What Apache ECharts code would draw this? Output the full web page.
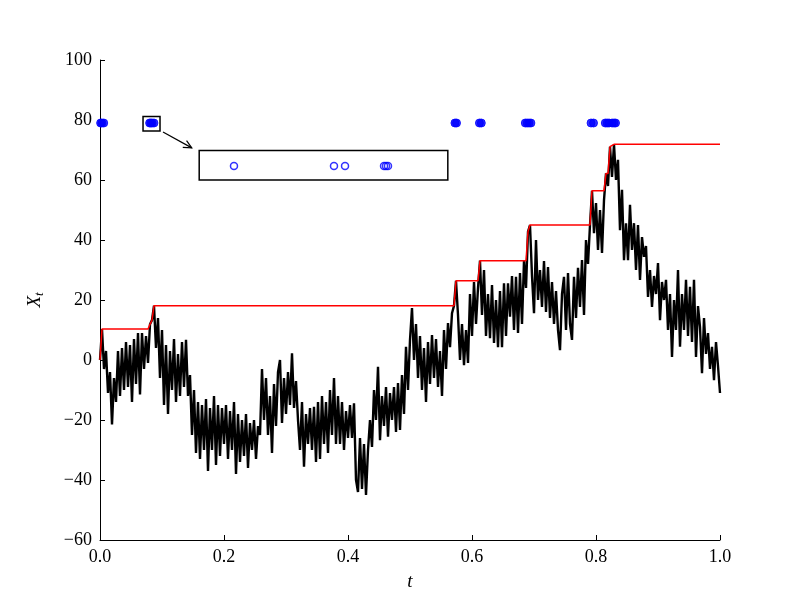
<!DOCTYPE html>
<html>
<head>
<meta charset="utf-8">
<title>X_t</title>
<script src="https://cdn.jsdelivr.net/npm/echarts@6.0.0/dist/echarts.min.js"></script>
<style>
html,body{margin:0;padding:0;background:#fff;}
#chart{width:800px;height:600px;}
</style>
</head>
<body>
<div id="chart"></div>
<script>
// sample path, one value every 1/310 in t
var pathX = [
    0, 10.3, -3, 3, -11, -4, -21.5, -6, -14, 3,
    -12, 4, -10, 6, -9, 5, -14, 7, -8, 9,
    -11.5, 9, -3, 8, -1, 11.9, 13.3, 18.1, 4, 14,
    -6, 10, -15, 5, -18, 3, -10, 7, -14, 2,
    -12, 6, -9, 6.7, -12, -5, -25, -10, -31, -14,
    -33, -15, -30, -13, -37, -16, -30, -12, -35, -15,
    -32, -16, -28, -15, -33, -17, -30, -14, -38, -18,
    -34, -20, -32, -18, -36, -21, -30, -20, -33, -22,
    -25, -3, -20, -6, -25, -12, -31, -8, -22, -4,
    0, -21, -6, -18, -4, -15, 2.2, -16, -7, -20,
    -30, -14, -35.6, -18, -28, -16, -30, -15.6, -34, -14,
    -33, -12, -28, -14, -31, -10, -25, -6, -28, -12,
    -28, -14, -30, -17, -26, -15, -26, -14.4, -40, -44,
    -26, -43, -28, -45, -30, -20, -29, -10, -20, -2.3,
    -26.7, -12, -22, -9, -25.6, -11, -20, -9, -24, -7.7,
    -23.3, -5, -18, 4.4, -10, 6.7, 17.3, 0, 12, -6,
    8, -10, 4, -14, 6, -8, 8.3, -6, 7, -9,
    3, -12, 10, -3, 12.3, 4.3, 15.6, 18.1, 26.4, 15,
    0, 12, -1.7, 10, -1, 22, 8, 26, 12, 24,
    33.1, 15, 30, 8, 22, 7.3, 25, 5.7, 20, 4.3,
    23, 4.3, 25.6, 8, 25.6, 14.4, 28, 10, 27.7, 9,
    29, 12, 33.1, 24, 42.8, 45, 28, 15.6, 40, 20,
    30, 17.7, 33, 16, 31, 14, 26, 12, 23, 10,
    3.3, 22, 27.7, 10, 29, 12, 6.7, 27.7, 14, 30.7,
    17.7, 33.3, 15, 40, 32, 45, 56.4, 42.3, 52.3, 36.7,
    50, 35.7, 53.3, 62.2, 58, 71.1, 61, 71.9, 60, 66.7,
    43.3, 56.7, 33.3, 45.6, 33.3, 51.7, 36.7, 45.6, 30, 45,
    26.7, 41, 34.4, 38, 21, 30, 17.7, 28, 22, 32.3,
    13.3, 26, 20, 26.7, 10, 22, 1, 20, 10, 30,
    4.4, 22, 10, 26.7, 8, 24.4, 6, 26.7, 1, 18,
    11, -4.4, 14, 2, 9, -3, 4.4, -6.7, 6, -2,
    -11
];

// running maximum (red)
var stepT = [0, 0.0032, 0.0774, 0.0806, 0.0839, 0.0871, 0.5710, 0.5742, 0.6097, 0.6129,
    0.6871, 0.6903, 0.6935, 0.7903, 0.7935, 0.8129, 0.8161, 0.8194, 0.8226, 0.8258, 0.8290, 1.0];
var stepV = [0, 10.3, 10.3, 11.9, 13.3, 18.1, 18.1, 26.4, 26.4, 33.1,
    33.1, 42.8, 45, 45, 56.4, 56.4, 62.2, 62.2, 71.1, 71.1, 71.9, 71.9];

// times of new maxima, drawn at level 79
var recordT = [0.001, 0.003, 0.006, 0.080, 0.082, 0.084, 0.087, 0.5725, 0.575, 0.612, 0.615,
    0.686, 0.689, 0.692, 0.695, 0.792, 0.796, 0.815, 0.818, 0.821, 0.826, 0.829, 0.8315];
var recordV = [79];

// the magnified view of the small box
var zoomT = [0.2161, 0.3774, 0.3952, 0.4581, 0.4613, 0.4645];
var zoomV = [64.7];

// boxes: t0, v0, t1, v1
var boxes = [[0.0694, 76.3, 0.0968, 81.2], [0.16, 60, 0.561, 69.8]];
// arrow: from t, v to t, v
var arrows = [[0.1016, 76, 0.148, 70.7]];

var FONT = 'Liberation Serif';

var pathData = [];
for (var i = 0; i < pathX.length; i++) {
    pathData.push([i / (pathX.length - 1), pathX[i]]);
}
var stepData = [];
for (var i = 0; i < stepT.length; i++) {
    stepData.push([stepT[i], stepV[i]]);
}
var recordData = [];
for (var i = 0; i < recordT.length; i++) {
    recordData.push([recordT[i], recordV[0]]);
}
var zoomData = [];
for (var i = 0; i < zoomT.length; i++) {
    zoomData.push([zoomT[i], zoomV[0]]);
}

function minus(s) {
    return String(s).replace('-', '\u2212');
}

var option = {
    animation: false,
    backgroundColor: '#fff',
    grid: {left: 100, right: 80, top: 60, bottom: 60},
    xAxis: {
        type: 'value',
        min: 0, max: 1, interval: 0.2,
        name: 't',
        nameLocation: 'middle',
        nameGap: 32,
        nameTextStyle: {fontFamily: FONT, fontSize: 19, fontStyle: 'italic', color: '#000'},
        axisLine: {onZero: false, lineStyle: {color: '#000', width: 1}},
        axisTick: {inside: true, length: 5, lineStyle: {color: '#000'}},
        axisLabel: {
            color: '#000', fontFamily: FONT, fontSize: 18, margin: 8,
            formatter: function (v) { return v.toFixed(1); }
        },
        splitLine: {show: false}
    },
    yAxis: {
        type: 'value',
        min: -60, max: 100, interval: 20,
        name: '{x|X}{s|t}',
        nameLocation: 'middle',
        nameGap: 54,
        nameRotate: 90,
        nameTextStyle: {
            color: '#000',
            rich: {
                x: {fontFamily: FONT, fontSize: 19, fontStyle: 'italic', color: '#000'},
                s: {fontFamily: FONT, fontSize: 13, fontStyle: 'italic', color: '#000', padding: [9, 0, 0, 0]}
            }
        },
        axisLine: {show: true, onZero: false, lineStyle: {color: '#000', width: 1}},
        axisTick: {show: true, inside: true, length: 5, lineStyle: {color: '#000'}},
        axisLabel: {
            color: '#000', fontFamily: FONT, fontSize: 18, margin: 8,
            formatter: function (v) { return minus(v); }
        },
        splitLine: {show: false}
    },
    series: [
        {
            name: 'path',
            type: 'line',
            data: pathData,
            showSymbol: false,
            lineStyle: {color: '#000', width: 2.4, join: 'miter', miterLimit: 4},
            z: 2
        },
        {
            name: 'max',
            type: 'line',
            data: stepData,
            showSymbol: false,
            lineStyle: {color: '#ff0000', width: 1.5},
            z: 3
        },
        {
            name: 'records',
            type: 'scatter',
            data: recordData,
            symbolSize: 8,
            itemStyle: {color: '#0000ff', borderColor: '#0000ff', borderWidth: 1},
            z: 4
        },
        {
            name: 'zoomed',
            type: 'scatter',
            data: zoomData,
            symbolSize: 7,
            itemStyle: {color: 'rgba(0,0,0,0)', borderColor: '#0000ff', borderWidth: 1.5},
            z: 4
        },
        {
            name: 'boxes',
            type: 'custom',
            data: boxes,
            renderItem: function (params, api) {
                var p0 = api.coord([api.value(0), api.value(1)]);
                var p1 = api.coord([api.value(2), api.value(3)]);
                return {
                    type: 'rect',
                    shape: {x: p0[0], y: p1[1], width: p1[0] - p0[0], height: p0[1] - p1[1]},
                    style: {fill: 'none', stroke: '#000', lineWidth: 1.5}
                };
            },
            z: 5
        },
        {
            name: 'arrow',
            type: 'custom',
            data: arrows,
            renderItem: function (params, api) {
                var a = api.coord([api.value(0), api.value(1)]);
                var b = api.coord([api.value(2), api.value(3)]);
                var ang = Math.atan2(b[1] - a[1], b[0] - a[0]);
                var len = 9, w = 0.45;
                var h1 = [b[0] - len * Math.cos(ang - w), b[1] - len * Math.sin(ang - w)];
                var h2 = [b[0] - len * Math.cos(ang + w), b[1] - len * Math.sin(ang + w)];
                return {
                    type: 'group',
                    children: [
                        {type: 'line', shape: {x1: a[0], y1: a[1], x2: b[0], y2: b[1]},
                            style: {stroke: '#000', lineWidth: 1.2}},
                        {type: 'polyline', shape: {points: [h1, b, h2]},
                            style: {stroke: '#000', fill: 'none', lineWidth: 1.2}}
                    ]
                };
            },
            z: 5
        }
    ]
};

var chart = echarts.init(document.getElementById('chart'));
chart.setOption(option);
</script>
</body>
</html>
